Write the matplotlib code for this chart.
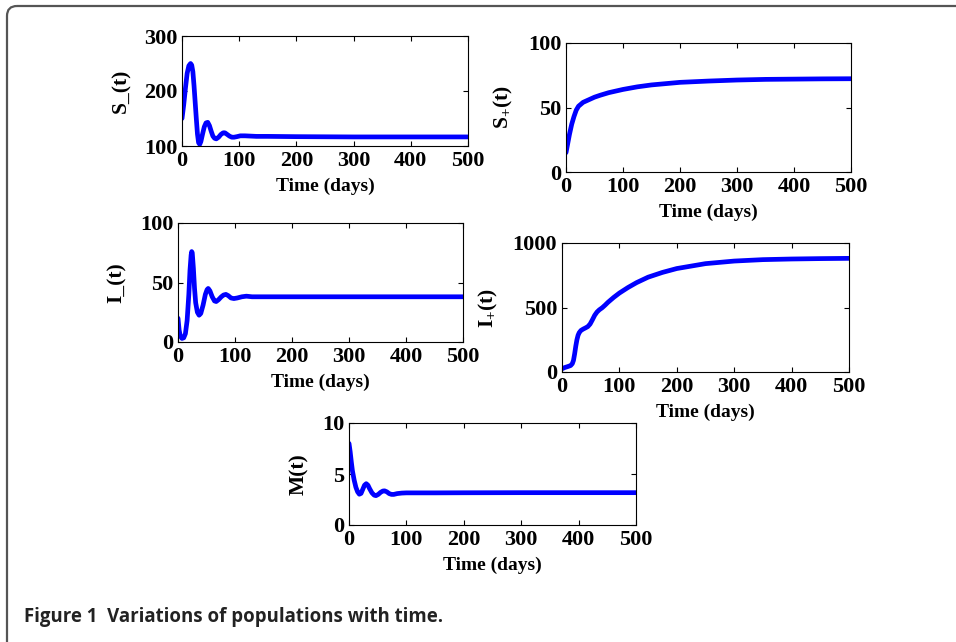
"""Variations of populations with time (five panel figure)."""

import matplotlib
matplotlib.use("Agg")
import matplotlib.pyplot as plt
from matplotlib.patches import FancyBboxPatch

plt.rcParams["font.family"] = "Liberation Serif"
plt.rcParams["font.weight"] = "bold"
plt.rcParams["mathtext.fontset"] = "custom"
plt.rcParams["mathtext.rm"] = "Liberation Serif:bold"
plt.rcParams["mathtext.default"] = "rm"

# values
s_minus_t = [0, 3, 6, 9, 12, 15, 17, 19, 21, 23, 25, 27, 29, 31, 33, 36, 39, 42, 45, 48,
             51, 54, 57, 60, 64, 68, 72, 75, 79, 83, 87, 91, 96, 102, 110, 120, 130, 150,
             200, 300, 400, 500]
s_minus = [150, 175, 205, 232, 246, 250, 247, 235, 210, 180, 150, 122, 106, 103, 108, 122,
           135, 142, 143, 137, 127, 118, 114, 113, 116, 121, 124, 124, 121, 118, 116, 116,
           117, 118.5, 118.5, 118, 117.5, 117.5, 117, 116.5, 116.5, 116.5]

s_plus_t = [0, 3, 6, 10, 14, 18, 22, 26, 30, 40, 50, 60, 75, 100, 125, 150, 200, 250, 300,
            350, 400, 450, 500]
s_plus = [15, 22, 29, 37, 43, 48, 51, 52.5, 54, 56, 58, 59.5, 61.5, 64, 66, 67.5, 69.5,
          70.5, 71.3, 71.8, 72, 72.2, 72.3]

i_minus_t = [0, 2, 4, 7, 10, 13, 16, 19, 21, 23, 24, 25, 27, 29, 31, 34, 37, 40, 44, 48,
             51, 53, 56, 60, 64, 67, 71, 76, 80, 84, 88, 93, 98, 104, 112, 120, 130, 150,
             200, 300, 400, 500]
i_minus = [20, 10, 5, 3, 3.5, 7, 18, 40, 60, 73, 76, 75, 62, 45, 33, 25, 22.5, 24, 31, 40,
           44, 45, 43, 38, 34.5, 34, 35.5, 38, 39.5, 40, 39, 37, 36.5, 37, 38, 38.5, 38, 38,
           38, 38, 38, 38]

i_plus_t = [0, 5, 10, 15, 18, 20, 22, 24, 26, 28, 30, 33, 37, 41, 45, 49, 53, 57, 61, 65,
            70, 75, 80, 90, 100, 115, 130, 150, 175, 200, 250, 300, 350, 400, 450, 500]
i_plus = [25, 35, 42, 50, 65, 90, 140, 200, 250, 285, 305, 322, 333, 342, 352, 372, 405,
          440, 465, 482, 498, 518, 540, 578, 612, 655, 693, 735, 772, 802, 840, 860, 871,
          876, 879, 881]

m_t = [0, 2, 4, 6, 9, 12, 15, 18, 21, 24, 27, 30, 33, 36, 40, 44, 47, 51, 55, 59, 62, 66,
       70, 74, 78, 84, 92, 100, 150, 200, 300, 400, 500]
m_vals = [8, 7.2, 6.2, 5.3, 4.4, 3.7, 3.25, 3.02, 3.1, 3.5, 3.9, 4.05, 3.9, 3.55, 3.15,
          2.92, 2.88, 3.0, 3.2, 3.33, 3.35, 3.25, 3.08, 3.0, 3.0, 3.08, 3.13, 3.15, 3.15,
          3.16, 3.17, 3.17, 3.17]

x_ticks = [0, 100, 200, 300, 400, 500]

W, H = 956, 642
fig = plt.figure(figsize=(W / 100, H / 100), dpi=100)


def px_axes(left, top, right, bottom):
    return fig.add_axes([left / W, 1 - bottom / H, (right - left) / W, (bottom - top) / H])


panels = [
    ((182, 36, 468, 146), s_minus_t, s_minus, (100, 300), [100, 200, 300], "S_(t)"),
    ((566, 43, 851, 172), s_plus_t, s_plus, (0, 100), [0, 50, 100], "S$_{+}$(t)"),
    ((178, 223, 463, 342), i_minus_t, i_minus, (0, 100), [0, 50, 100], "I_(t)"),
    ((562, 243, 849, 372), i_plus_t, i_plus, (0, 1000), [0, 500, 1000], "I$_{+}$(t)"),
    ((349, 423, 636, 525), m_t, m_vals, (0, 10), [0, 5, 10], "M(t)"),
]

for box, t, y, ylim, yticks, ylabel in panels:
    ax = px_axes(*box)
    ax.plot(t, y, color="#0000ff", lw=3.4, solid_capstyle="round")
    ax.set_xlim(0, 500)
    ax.set_ylim(*ylim)
    ax.set_xticks(x_ticks)
    ax.set_yticks(yticks)
    ax.tick_params(direction="in", top=True, right=True, length=3.5, width=0.8,
                   labelsize=16, pad=3.5)
    for sp in ax.spines.values():
        sp.set_linewidth(0.8)
    ax.set_xlabel("Time (days)", fontsize=14, fontweight="bold", labelpad=5)
    ax.set_ylabel(ylabel, fontsize=15.5, fontweight="bold", labelpad=9)

# outer frame and caption
overlay = fig.add_axes([0, 0, 1, 1], zorder=-1)
overlay.set_xlim(0, W)
overlay.set_ylim(H, 0)
overlay.axis("off")
frame = FancyBboxPatch((17, 16), 980, 640, boxstyle="round,pad=10",
                       fill=False, edgecolor="#555555", lw=1.6)
overlay.add_patch(frame)
overlay.text(24, 617, "Figure 1  Variations of populations with time.",
             family="Open Sans", fontweight="bold", fontsize=13.4,
             va="center", ha="left", color="#222222")

fig.savefig("out.png", dpi=100)
